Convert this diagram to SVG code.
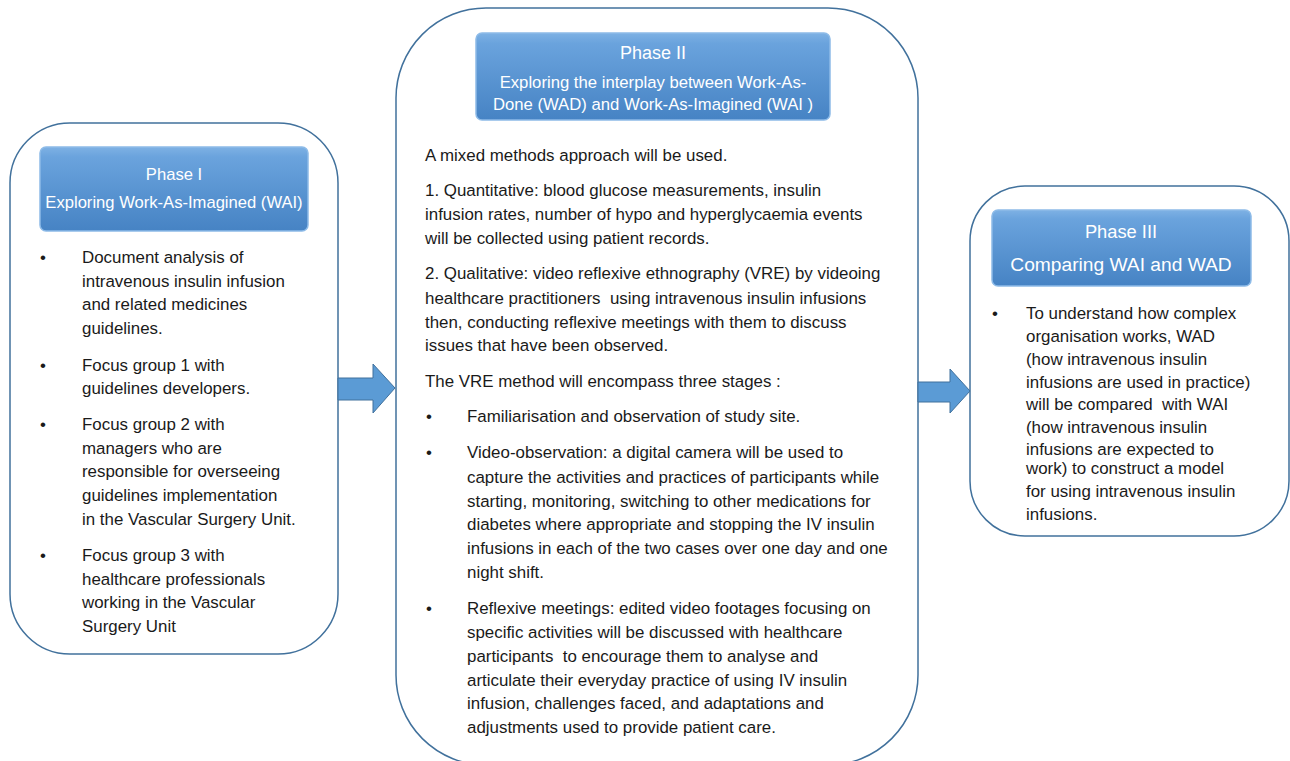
<svg xmlns="http://www.w3.org/2000/svg" width="1290" height="761" viewBox="0 0 1290 761">
<defs>
<linearGradient id="hg" x1="0" y1="0" x2="0" y2="1">
<stop offset="0" stop-color="#7eb1e4"/>
<stop offset="0.12" stop-color="#6aa3dd"/>
<stop offset="1" stop-color="#4683c4"/>
</linearGradient>
<style>
.box{fill:#fff;stroke:#41719c;stroke-width:1.5}
.hdr{fill:url(#hg);stroke:#8dbbe8;stroke-width:1.5}
.ht{font-family:"Liberation Sans",Arial,sans-serif;fill:#fff;text-anchor:middle}
.t{font-family:"Liberation Sans",Arial,sans-serif;font-size:16.9px;fill:#1a1a1a}
.arr{fill:#5b9bd5;stroke:#41719c;stroke-width:1}
</style>
</defs>
<rect width="1290" height="761" fill="#fff"/>

<g id="phase1">
<rect class="box" x="10" y="123" width="328" height="531" rx="60" ry="60"/>
<rect class="hdr" x="40" y="147" width="268" height="84" rx="6"/>
<text class="ht" x="174" y="180" font-size="16.6">Phase I</text>
<text class="ht" x="174" y="208" font-size="16.6">Exploring Work-As-Imagined (WAI)</text>
<g class="t">
<text x="40" y="263">•</text>
<text x="82" y="263">Document analysis of</text>
<text x="82" y="287">intravenous insulin infusion</text>
<text x="82" y="310">and related medicines</text>
<text x="82" y="334">guidelines.</text>
<text x="40" y="371">•</text>
<text x="82" y="371">Focus group 1 with</text>
<text x="82" y="394">guidelines developers.</text>
<text x="40" y="430">•</text>
<text x="82" y="430">Focus group 2 with</text>
<text x="82" y="454">managers who are</text>
<text x="82" y="477">responsible for overseeing</text>
<text x="82" y="501">guidelines implementation</text>
<text x="82" y="525">in the Vascular Surgery Unit.</text>
<text x="40" y="561">•</text>
<text x="82" y="561">Focus group 3 with</text>
<text x="82" y="585">healthcare professionals</text>
<text x="82" y="608">working in the Vascular</text>
<text x="82" y="632">Surgery Unit</text>
</g>
</g>

<g id="phase2">
<rect class="box" x="396" y="8" width="522" height="757" rx="90" ry="90"/>
<rect class="hdr" x="476" y="33" width="354" height="87" rx="6"/>
<text class="ht" x="653" y="59" font-size="18">Phase II</text>
<text class="ht" x="653" y="88" font-size="16.7">Exploring the interplay between Work-As-</text>
<text class="ht" x="653" y="110" font-size="16.7">Done (WAD) and Work-As-Imagined (WAI )</text>
<g class="t">
<text x="425" y="161">A mixed methods approach will be used.</text>
<text x="425" y="196">1. Quantitative: blood glucose measurements, insulin</text>
<text x="425" y="220">infusion rates, number of hypo and hyperglycaemia events</text>
<text x="425" y="244">will be collected using patient records.</text>
<text x="425" y="279">2. Qualitative: video reflexive ethnography (VRE) by videoing</text>
<text x="425" y="304" xml:space="preserve">healthcare practitioners  using intravenous insulin infusions</text>
<text x="425" y="328">then, conducting reflexive meetings with them to discuss</text>
<text x="425" y="351">issues that have been observed.</text>
<text x="425" y="387">The VRE method will encompass three stages :</text>
<text x="426" y="422">•</text>
<text x="467" y="422">Familiarisation and observation of study site.</text>
<text x="426" y="458">•</text>
<text x="467" y="458">Video-observation: a digital camera will be used to</text>
<text x="467" y="483">capture the activities and practices of participants while</text>
<text x="467" y="507">starting, monitoring, switching to other medications for</text>
<text x="467" y="530">diabetes where appropriate and stopping the IV insulin</text>
<text x="467" y="554">infusions in each of the two cases over one day and one</text>
<text x="467" y="578">night shift.</text>
<text x="426" y="614">•</text>
<text x="467" y="614">Reflexive meetings: edited video footages focusing on</text>
<text x="467" y="638">specific activities will be discussed with healthcare</text>
<text x="467" y="662" xml:space="preserve">participants  to encourage them to analyse and</text>
<text x="467" y="686">articulate their everyday practice of using IV insulin</text>
<text x="467" y="709">infusion, challenges faced, and adaptations and</text>
<text x="467" y="733">adjustments used to provide patient care.</text>
</g>
</g>

<g id="phase3">
<rect class="box" x="970" y="186" width="319" height="350" rx="55" ry="55"/>
<rect class="hdr" x="992" y="210" width="259" height="76" rx="6"/>
<text class="ht" x="1121" y="238" font-size="18.3">Phase III</text>
<text class="ht" x="1121" y="271" font-size="19.2">Comparing WAI and WAD</text>
<g class="t">
<text x="992" y="319">•</text>
<text x="1026" y="319">To understand how complex</text>
<text x="1026" y="342">organisation works, WAD</text>
<text x="1026" y="365">(how intravenous insulin</text>
<text x="1026" y="388">infusions are used in practice)</text>
<text x="1026" y="410" xml:space="preserve">will be compared  with WAI</text>
<text x="1026" y="433">(how intravenous insulin</text>
<text x="1026" y="455">infusions are expected to</text>
<text x="1026" y="474">work) to construct a model</text>
<text x="1026" y="497">for using intravenous insulin</text>
<text x="1026" y="520">infusions.</text>
</g>
</g>

<g id="connectors">
<polygon class="arr" points="338,378 373,378 373,364 395,388 373,413 373,400 338,400"/>
<polygon class="arr" points="918,382 950,382 950,369 970,391 950,413 950,402 918,402"/>
</g>
</svg>
